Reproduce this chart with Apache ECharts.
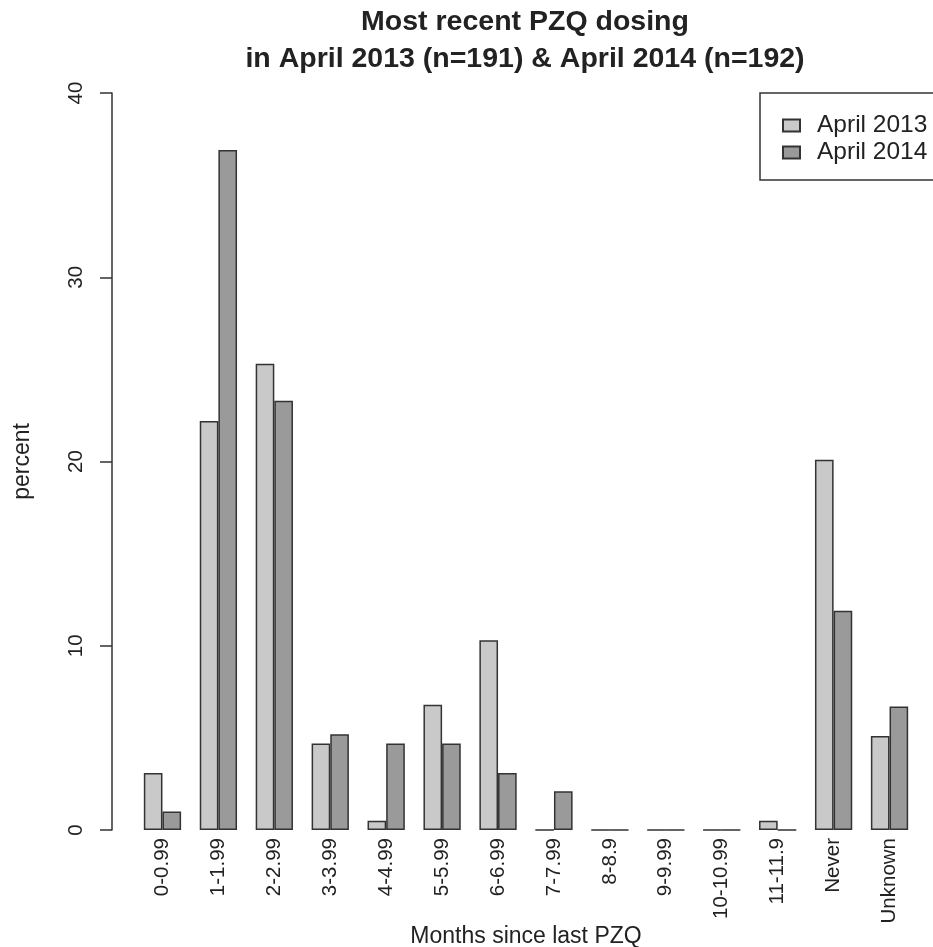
<!DOCTYPE html>
<html>
<head>
<meta charset="utf-8">
<script src="https://cdn.jsdelivr.net/npm/echarts@6/dist/echarts.min.js"></script>
<style>
html,body{margin:0;padding:0;background:#fff;}
#main{width:933px;height:947px;}
</style>
</head>
<body>
<div id="main"></div>
<script>
const categories = ['0-0.99','1-1.99','2-2.99','3-3.99','4-4.99','5-5.99','6-6.99','7-7.99','8-8.9','9-9.99','10-10.99','11-11.9','Never','Unknown'];
const april2013 = [3.1, 22.2, 25.3, 4.7, 0.5, 6.8, 10.3, 0, 0, 0, 0, 0.5, 20.1, 5.1];
const april2014 = [1.0, 36.9, 23.3, 5.2, 4.7, 4.7, 3.1, 2.1, 0, 0, 0, 0, 11.9, 6.7];
const yTicks = [0, 10, 20, 30, 40];
const titleLines = ['Most recent PZQ dosing', 'in April 2013 (n=191) & April 2014 (n=192)'];

const FONT = '"Liberation Sans", Arial, Helvetica, sans-serif';
const chart = echarts.init(document.getElementById('main'), null, {renderer: 'canvas'});
const option = {
  backgroundColor: '#fff',
  animation: false,
  textStyle: {fontFamily: FONT, color: '#222'},
  graphic: [{
    type: 'text',
    x: 525, y: 4,
    style: {
      text: titleLines.join('\n'),
      fontFamily: FONT, fontSize: 28.5, fontWeight: 'bold',
      fill: '#222', textAlign: 'center', lineHeight: 37
    }
  }],
  legend: {
    orient: 'vertical',
    left: 760, top: 93,
    data: ['April 2013', 'April 2014'],
    icon: 'rect',
    itemWidth: 17, itemHeight: 12, itemGap: 0,
    borderColor: '#333', borderWidth: 1.5, borderRadius: 0,
    padding: [19, 20, 14, 22],
    textStyle: {fontFamily: FONT, fontSize: 24.5, color: '#222', lineHeight: 27, padding: [0, 0, 0, 12]}
  },
  grid: {left: 134.5, right: 15.5, top: 93, bottom: 117, containLabel: false, outerBoundsMode: 'none'},
  xAxis: {
    type: 'category',
    data: categories,
    axisLine: {show: false},
    axisTick: {show: false},
    axisLabel: {rotate: 90, interval: 0, fontSize: 20.5, margin: 8, color: '#222', fontFamily: FONT},
    name: 'Months since last PZQ',
    nameLocation: 'middle',
    nameGap: 95,
    nameMoveOverlap: false,
    nameTextStyle: {fontSize: 23, color: '#222', fontFamily: FONT}
  },
  yAxis: {
    type: 'value',
    min: yTicks[0], max: yTicks[yTicks.length - 1], interval: 10,
    offset: 22.5,
    axisLine: {show: true, lineStyle: {color: '#333', width: 1.5}},
    axisTick: {show: true, length: 12, lineStyle: {color: '#333', width: 1.5}},
    axisLabel: {rotate: 90, fontSize: 20.5, margin: 25, color: '#222', fontFamily: FONT},
    splitLine: {show: false},
    name: 'percent',
    nameLocation: 'middle',
    nameGap: 78,
    nameMoveOverlap: false,
    nameTextStyle: {fontSize: 23, color: '#222', fontFamily: FONT}
  },
  series: [
    {
      name: 'April 2013', type: 'bar', data: april2013,
      barGap: '0%', barCategoryGap: '33.33%',
      itemStyle: {color: '#c9c9c9', borderColor: '#333', borderWidth: 1.5}
    },
    {
      name: 'April 2014', type: 'bar', data: april2014,
      barGap: '0%', barCategoryGap: '33.33%',
      itemStyle: {color: '#9a9a9a', borderColor: '#333', borderWidth: 1.5}
    }
  ]
};
chart.setOption(option);
</script>
</body>
</html>
